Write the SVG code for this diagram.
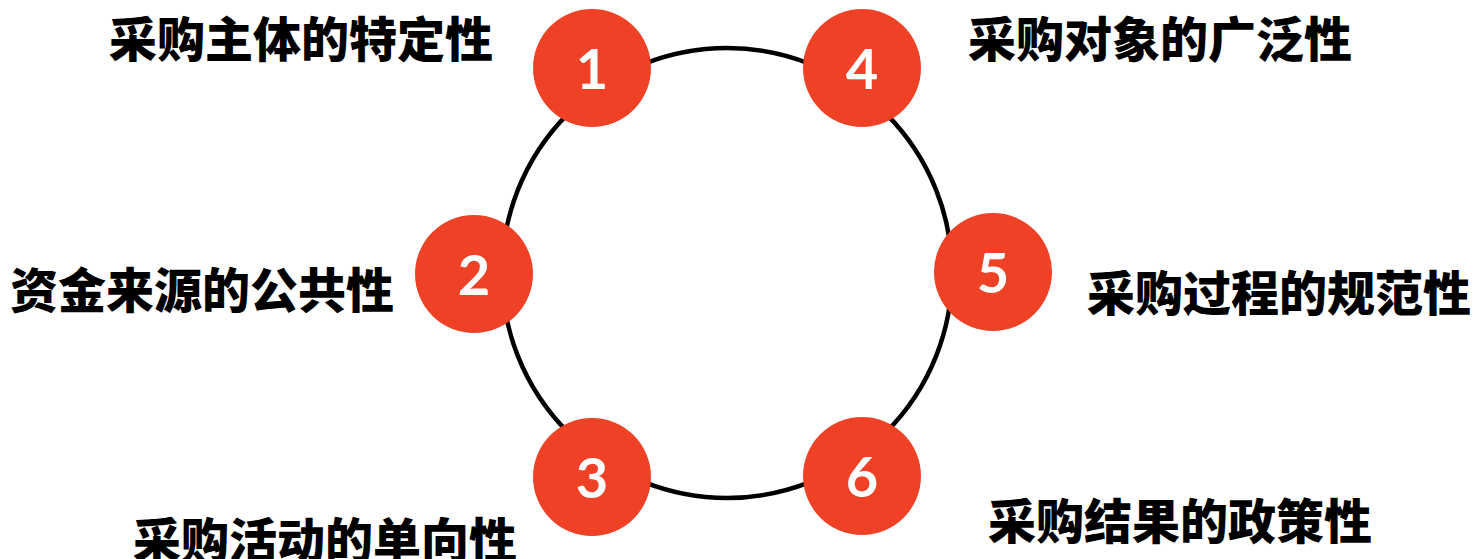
<svg xmlns="http://www.w3.org/2000/svg" width="1477" height="559" viewBox="0 0 1477 559">
<style>
.node{fill:#EE4125;}
.num{font-family:Lato,"Open Sans",sans-serif;font-weight:700;font-size:56px;fill:#fff;text-anchor:middle;}
.lbl{font-family:"Noto Sans CJK SC",sans-serif;font-weight:900;font-size:48px;fill:#000;}
</style>
<rect width="1477" height="559" fill="#fff"/>
<g id="connectors">
<circle cx="727" cy="273" r="225" fill="none" stroke="#000" stroke-width="4.5"/>
</g>
<g id="node1"><circle class="node" cx="592" cy="68" r="59"/><text class="num" x="592" y="89">1</text></g>
<g id="node4"><circle class="node" cx="862" cy="68" r="59"/><text class="num" x="862" y="89">4</text></g>
<g id="node2"><circle class="node" cx="474" cy="274" r="59"/><text class="num" x="474" y="295">2</text></g>
<g id="node5"><circle class="node" cx="993" cy="272" r="59"/><text class="num" x="993" y="293">5</text></g>
<g id="node3"><circle class="node" cx="592" cy="477" r="59"/><text class="num" x="592" y="498">3</text></g>
<g id="node6"><circle class="node" cx="862" cy="476" r="59"/><text class="num" x="862" y="497">6</text></g>
<g id="label1"><text class="lbl" x="109" y="57">采购主体的特定性</text></g>
<g id="label4"><text class="lbl" x="968" y="57">采购对象的广泛性</text></g>
<g id="label2"><text class="lbl" x="10" y="308">资金来源的公共性</text></g>
<g id="label5"><text class="lbl" x="1087" y="311">采购过程的规范性</text></g>
<g id="label3"><text class="lbl" x="133" y="558">采购活动的单向性</text></g>
<g id="label6"><text class="lbl" x="988" y="539">采购结果的政策性</text></g>
</svg>
